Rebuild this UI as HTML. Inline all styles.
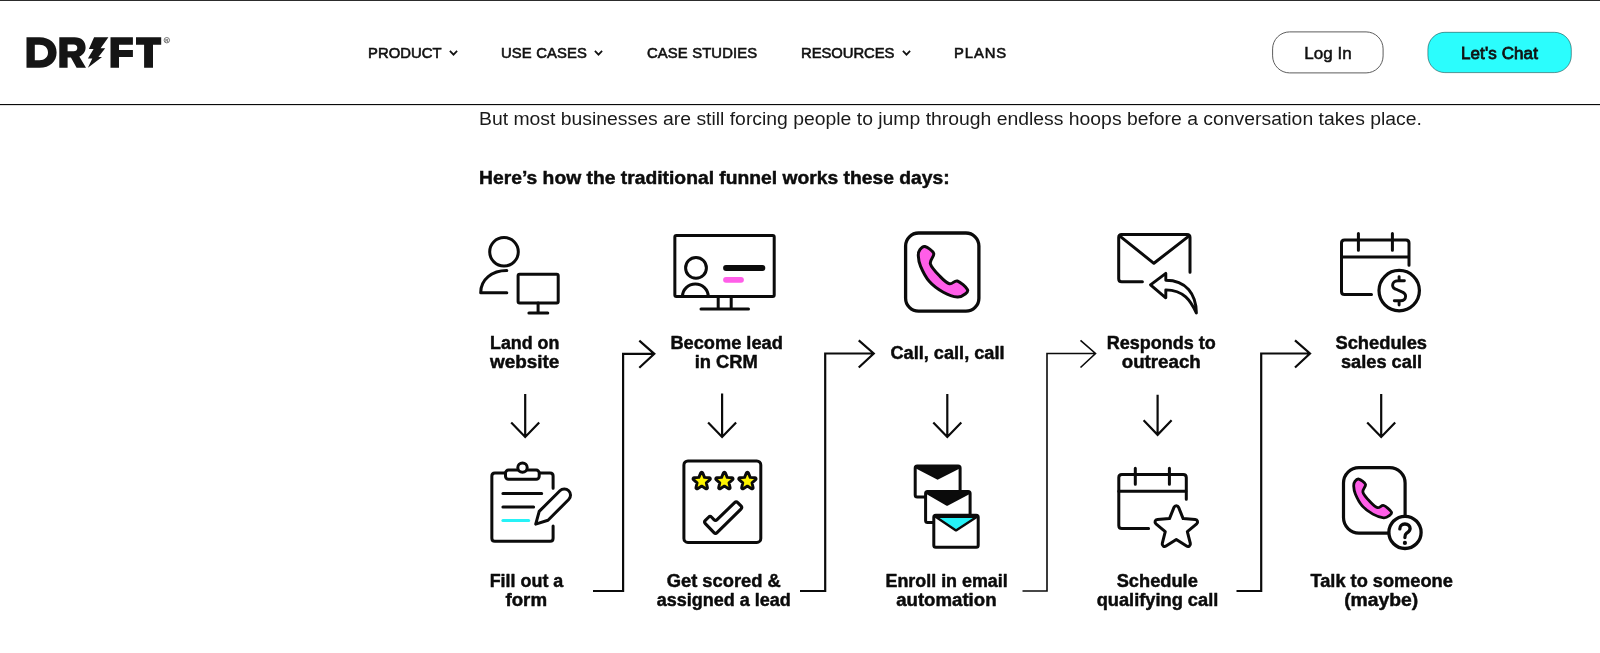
<!DOCTYPE html>
<html lang="en">
<head>
<meta charset="utf-8">
<title>Drift</title>
<style>
html,body{margin:0;padding:0;background:#fff;}
body{width:1600px;height:653px;overflow:hidden;position:relative;font-family:"Liberation Sans",sans-serif;color:#111;}
.topline{position:absolute;left:0;top:0;width:1600px;height:1px;background:#2c2c2c;border-bottom:1px solid #e9e9e9;}
.hdrline2{position:absolute;left:0;top:105px;width:1600px;height:1px;background:#dedede;}
header{position:absolute;left:0;top:1px;width:1600px;height:103px;background:#fff;border-bottom:1px solid #0a0a0a;box-sizing:content-box;}
.logo{position:absolute;left:26px;top:35px;will-change:transform;}
nav a{will-change:transform;position:absolute;top:43.7px;font-size:14.8px;line-height:16px;letter-spacing:0.1px;color:#111;text-decoration:none;white-space:nowrap;-webkit-text-stroke:0.6px #111;}
nav svg{position:absolute;top:49px;}
.btn{position:absolute;box-sizing:border-box;font-size:17px;text-align:center;color:#111;white-space:nowrap;-webkit-text-stroke:0.3px #111;will-change:transform;}
.btnshape{position:absolute;left:0;top:-1px;will-change:transform;}
.login{left:1272px;top:31.6px;-webkit-text-stroke:0.5px #111;width:112px;height:42px;line-height:42px;}
.chat{letter-spacing:0.1px;left:1427px;top:31.6px;width:145px;height:42px;line-height:42px;-webkit-text-stroke:0.8px #111;}
.p1{will-change:transform;position:absolute;left:479px;top:108px;font-size:18px;line-height:22px;transform:scaleX(1.0757);transform-origin:0 0;white-space:nowrap;color:#1a1a1a;}
.h1{will-change:transform;position:absolute;left:479px;top:167px;font-size:18px;line-height:22px;transform:scaleX(1.0712);transform-origin:0 0;font-weight:bold;white-space:nowrap;color:#0c0c0c;-webkit-text-stroke:0.45px #0c0c0c;}
#dg{position:absolute;left:0;top:0;filter:blur(0.35px);}
</style>
</head>
<body>
<div class="topline"></div>
<div class="hdrline2"></div>
<header>
<svg class="logo" width="150" height="34" viewBox="26 36 150 34" aria-label="Drift">
<g fill="#151515">
<path fill-rule="evenodd" d="M26.5,37.2 H39.5 C50,37.2 56.6,43.5 56.6,52.5 C56.6,61.5 50,67.8 39.5,67.8 H26.5 Z M34.8,44.8 V60.2 H39.5 C44.6,60.2 48,57.2 48,52.5 C48,47.8 44.6,44.8 39.5,44.8 Z"/>
<path fill-rule="evenodd" d="M59.3,37.2 H74.5 C81.5,37.2 85.6,41.2 85.6,47.3 C85.6,51.8 83.2,55 79.3,56.6 L86,67.8 H76.6 L70.9,57.6 H67.6 V67.8 H59.3 Z M67.6,44.6 V51.2 H73.6 C75.9,51.2 77.3,49.9 77.3,47.9 C77.3,45.9 75.9,44.6 73.6,44.6 Z"/>
<path d="M94.1,37.2 H108.4 L100.6,48.2 H105.2 L98.4,57 H102 L87.9,67.8 L92.3,58.6 H87.9 L93.6,48.9 H88.9 Z"/>
<path d="M110.5,37.2 H132.9 V44.8 H119 V50 H132.9 V56.9 H119 V67.8 H110.5 Z"/>
<path d="M136,37.2 H161.2 V44.8 H153 V67.8 H144.1 V44.8 H136 Z"/>
</g>
<circle cx="166.8" cy="40.2" r="2.7" fill="none" stroke="#555" stroke-width="0.8"/>
<text x="166.8" y="41.8" font-size="4.2" font-weight="bold" text-anchor="middle" fill="#555" font-family="Liberation Sans, sans-serif">R</text>
</svg>
<nav>
<a style="left:368px;letter-spacing:0.07px">PRODUCT</a>
<svg style="left:449.15px" width="9" height="7" viewBox="0 0 9 7"><path d="M0.9,0.8 L4.5,4.7 L8.1,0.8" fill="none" stroke="#111" stroke-width="1.7"/></svg>
<a style="left:501.3px;letter-spacing:0.15px">USE CASES</a>
<svg style="left:593.8px" width="9" height="7" viewBox="0 0 9 7"><path d="M0.9,0.8 L4.5,4.7 L8.1,0.8" fill="none" stroke="#111" stroke-width="1.7"/></svg>
<a style="left:646.8px;letter-spacing:0.15px">CASE STUDIES</a>
<a style="left:801.3px;letter-spacing:-0.04px">RESOURCES</a>
<svg style="left:901.9px" width="9" height="7" viewBox="0 0 9 7"><path d="M0.9,0.8 L4.5,4.7 L8.1,0.8" fill="none" stroke="#111" stroke-width="1.7"/></svg>
<a style="left:953.6px;letter-spacing:0.92px">PLANS</a>
</nav>
<svg class="btnshape" width="1600" height="104" viewBox="0 0 1600 104">
<rect x="1272.6" y="31.9" width="110.5" height="41" rx="17" fill="#fff" stroke="#4a4a4a" stroke-width="0.9"/>
<rect x="1427.9" y="32.3" width="143.4" height="40.3" rx="17" fill="#2bfdfd" stroke="rgba(0,40,40,0.55)" stroke-width="0.9"/>
</svg>
<div class="btn login">Log In</div>
<div class="btn chat">Let's Chat</div>
</header>
<div class="p1">But most businesses are still forcing people to jump through endless hoops before a conversation takes place.</div>
<div class="h1">Here’s how the traditional funnel works these days:</div>
<svg id="dg" width="1600" height="653" viewBox="0 0 1600 653" font-family="Liberation Sans, sans-serif">
<g fill="none" stroke="#0b0b0b" stroke-linecap="round" stroke-linejoin="round">
<g stroke-width="3">
<circle cx="504" cy="251.8" r="14.3"/>
<path d="M506.8,270.5 C492,270.5 480.7,279.5 480.7,292.7 H506.8"/>
<rect x="518.1" y="274.2" width="40.1" height="28.9" rx="1.5"/>
<path d="M538.1,303.1 V313 M528.9,313 H547.8"/>
</g>
<g stroke-width="3">
<rect x="674.85" y="235.6" width="99.35" height="60.8" rx="1.5"/>
<circle cx="696" cy="267.9" r="10.4"/>
<path d="M682.5,296.4 A12.85,12.4 0 0 1 708.2,296.4"/>
<path d="M718.2,297.4 V308.9 M731.2,297.4 V308.9 M701,308.9 H748.5"/>
<path d="M726,268 H762.4" stroke-width="5.8"/>
<path d="M726,279.8 H741" stroke-width="5.8" stroke="#ff5ee8"/>
</g>
<rect x="905.6" y="233" width="73.3" height="78.2" rx="13" stroke-width="3.3"/>
<path d="M924.9,246.5 C927.2,247.13 932.78,250.52 933.7,253.4 C934.62,256.28 929.35,259.97 930.4,263.8 C931.45,267.63 936.82,273.07 940,276.4 C943.18,279.73 946.6,283.03 949.5,283.8 C952.4,284.57 954.42,280.07 957.4,281 C960.38,281.93 966.12,287.23 967.4,289.4 C968.68,291.57 966.77,292.72 965.1,294 C963.43,295.28 961.03,297.38 957.4,297.1 C953.77,296.82 947.97,294.88 943.3,292.3 C938.63,289.72 933.18,285.92 929.4,281.6 C925.62,277.28 922.45,270.72 920.6,266.4 C918.75,262.08 918.42,258.5 918.3,255.7 C918.18,252.9 918.8,251.13 919.9,249.6 C921,248.07 922.6,245.87 924.9,246.5 Z" fill="#ff5ee8" stroke-width="3"/>
<g stroke-width="3">
<path d="M1190,272.3 V237.55 Q1190,234.55 1187,234.55 H1121.7 Q1118.7,234.55 1118.7,237.55 V278.7 Q1118.7,281.7 1121.7,281.7 H1142.4"/>
<path d="M1119.9,236.1 L1153.9,263.3 L1188.8,236.1"/>
<path d="M1150.5,284.8 L1165.8,273.3 V280.2 C1186,280.2 1196.2,294 1196.4,313.1 C1190.5,300.5 1184,290.3 1165.8,289.9 V297.8 Z" fill="#fff" stroke-width="2.9"/>
</g>
<g stroke-width="3">
<path d="M1409,265.2 V243.1 Q1409,240.1 1406,240.1 H1344.5 Q1341.5,240.1 1341.5,243.1 V291.4 Q1341.5,294.4 1344.5,294.4 H1371.5"/>
<path d="M1341.5,256.9 H1408.5 M1358.4,233.6 V250.2 M1392.4,233.6 V250.2"/>
<circle cx="1399.2" cy="290.6" r="20.2" fill="#fff" stroke-width="3.2"/>
<path d="M1404.4,280.7 H1397.8 C1394.6,280.7 1392.6,282.7 1392.6,285.2 C1392.6,287.6 1394.2,288.9 1397.2,289.7 L1401.4,291.6 C1404.2,292.6 1405.6,294 1405.6,296.3 C1405.6,299 1403.6,300.8 1400.6,300.8 H1394.3 M1399.1,276.6 V280.7 M1399.1,300.8 V305" stroke-width="2.9"/>
</g>
<g stroke-width="3">
<path d="M505.5,473 H494.85 Q491.85,473 491.85,476 V538.2 Q491.85,541.2 494.85,541.2 H550.1 Q553.1,541.2 553.1,538.2 V526 M553.1,488.2 V476 Q553.1,473 550.1,473 H539.2"/>
<rect x="505.5" y="470.1" width="33.7" height="9.2" rx="3" fill="#fff"/>
<circle cx="522.5" cy="467.6" r="4.7" fill="#fff"/>
<path d="M502.9,493.4 H541.7 M502.9,507 H533.6"/>
<path d="M502.9,520.5 H528.7" stroke="#26f2f7"/>
<path d="M535.7,524.1 L539.2,511.4 L559.9,490.7 A6.2,6.2 0 0 1 568.7,499.5 L548,520.2 Z" fill="#fff"/>
</g>
<g stroke-width="3">
<rect x="683.9" y="460.9" width="76.9" height="81.5" rx="4"/>
<path d="M700.73,472.88 A1.05,1.05 0 0 1 702.67,472.88 L704.52,477.42 L709.4,477.77 A1.05,1.05 0 0 1 710.01,479.62 L706.27,482.78 L707.43,487.54 A1.05,1.05 0 0 1 705.86,488.68 L701.7,486.1 L697.54,488.68 A1.05,1.05 0 0 1 695.97,487.54 L697.13,482.78 L693.39,479.62 A1.05,1.05 0 0 1 694,477.77 L698.88,477.42 Z" fill="#fff500" stroke-width="2.9"/>
<path d="M723.43,472.88 A1.05,1.05 0 0 1 725.37,472.88 L727.22,477.42 L732.1,477.77 A1.05,1.05 0 0 1 732.71,479.62 L728.97,482.78 L730.13,487.54 A1.05,1.05 0 0 1 728.56,488.68 L724.4,486.1 L720.24,488.68 A1.05,1.05 0 0 1 718.67,487.54 L719.83,482.78 L716.09,479.62 A1.05,1.05 0 0 1 716.7,477.77 L721.58,477.42 Z" fill="#fff500" stroke-width="2.9"/>
<path d="M746.43,472.88 A1.05,1.05 0 0 1 748.37,472.88 L750.22,477.42 L755.1,477.77 A1.05,1.05 0 0 1 755.71,479.62 L751.97,482.78 L753.13,487.54 A1.05,1.05 0 0 1 751.56,488.68 L747.4,486.1 L743.24,488.68 A1.05,1.05 0 0 1 741.67,487.54 L742.83,482.78 L739.09,479.62 A1.05,1.05 0 0 1 739.7,477.77 L744.58,477.42 Z" fill="#fff500" stroke-width="2.9"/>
<path d="M705.32,523.59 Q703.8,522 705.36,520.44 L708.54,517.26 Q710.1,515.7 711.66,517.26 L713.94,519.54 Q715.5,521.1 717.08,519.57 L734.62,502.63 Q736.2,501.1 737.74,502.67 L740.96,505.93 Q742.5,507.5 740.94,509.05 L717.06,532.65 Q715.5,534.2 713.98,532.61 Z" stroke-width="3.1"/>
</g>
<g stroke-width="3">
<rect x="915.2" y="466" width="44.9" height="31.1" rx="2" fill="#fff"/>
<path d="M916.4,467.5 L937.6,478.7 L959.3,467.5 Z" fill="#0b0b0b" stroke-width="2"/>
<rect x="925.6" y="491.5" width="44.5" height="30.9" rx="2" fill="#fff"/>
<path d="M926.4,493 L947.1,504.8 L969.3,493 Z" fill="#0b0b0b" stroke-width="2"/>
<rect x="933.8" y="515.2" width="44.4" height="32" rx="2" fill="#fff"/>
<path d="M935.6,516.7 L956,530.4 L977,516.7 Z" fill="#26f2f7" stroke-width="2.4"/>
</g>
<g stroke-width="3">
<path d="M1186.3,499.3 V477.5 Q1186.2,474.5 1183.2,474.5 H1121.8 Q1118.8,474.5 1118.8,477.5 V525.5 Q1118.8,528.5 1121.8,528.5 H1148.6"/>
<path d="M1118.8,491.3 H1185.8 M1135.3,468.2 V484.3 M1169.4,468.2 V484.3"/>
<path d="M1173.98,507.33 A2.5,2.5 0 0 1 1178.62,507.33 L1183.12,518.62 L1195.24,519.4 A2.5,2.5 0 0 1 1196.68,523.82 L1187.33,531.58 L1190.33,543.36 A2.5,2.5 0 0 1 1186.57,546.09 L1176.3,539.6 L1166.03,546.09 A2.5,2.5 0 0 1 1162.27,543.36 L1165.27,531.58 L1155.92,523.82 A2.5,2.5 0 0 1 1157.36,519.4 L1169.48,518.62 Z" fill="#fff"/>
</g>
<rect x="1343.5" y="467.6" width="61.6" height="65.5" rx="15.5" stroke-width="3.2"/>
<path d="M1358.76,479.05 C1360.52,479.54 1364.79,482.13 1365.5,484.34 C1366.2,486.54 1362.16,489.37 1362.97,492.3 C1363.77,495.24 1367.88,499.4 1370.32,501.95 C1372.76,504.51 1375.38,507.03 1377.6,507.62 C1379.82,508.21 1381.37,504.76 1383.65,505.48 C1385.94,506.19 1390.33,510.25 1391.31,511.91 C1392.29,513.57 1390.83,514.45 1389.55,515.43 C1388.27,516.42 1386.43,518.03 1383.65,517.81 C1380.87,517.59 1376.42,516.11 1372.85,514.13 C1369.28,512.15 1365.1,509.24 1362.2,505.94 C1359.3,502.63 1356.88,497.6 1355.46,494.29 C1354.04,490.99 1353.79,488.24 1353.7,486.1 C1353.61,483.95 1354.08,482.6 1354.93,481.42 C1355.77,480.25 1356.99,478.56 1358.76,479.05 Z" fill="#ff5ee8" stroke-width="2.8"/>
<circle cx="1405" cy="532.4" r="16.1" fill="#fff" stroke-width="3.3"/>
<path d="M1399.8,528.9 C1399.8,526 1401.8,524 1404.9,524 C1408,524 1410.1,525.9 1410.1,528.6 C1410.1,531.4 1408,532.3 1406.4,533.4 C1405.2,534.2 1404.9,535.2 1404.9,537.6" stroke-width="3.3"/>
<circle cx="1404.9" cy="542.9" r="2.1" fill="#0b0b0b" stroke="none"/>
<g stroke-width="2.2" stroke-linecap="butt" stroke-linejoin="miter">
<path d="M525.2,394 V436.5 M511.2,422.4 L525.2,437 L539.2,422.4"/>
<path d="M722.1,393.5 V436.5 M708.1,422.4 L722.1,437 L736.1,422.4"/>
<path d="M947.3,394 V436.5 M933.3,422.4 L947.3,437 L961.3,422.4"/>
<path d="M1157.6,394.7 V434.3 M1143.6,420.2 L1157.6,434.8 L1171.6,420.2"/>
<path d="M1381.2,394 V436.5 M1367.2,422.4 L1381.2,437 L1395.2,422.4"/>
</g>
<path d="M593,591 H623.1 V353.8 H653.8 M639.3,340.6 L654.3,353.8 L639.3,367.8" stroke-width="2.2" stroke-linecap="butt" stroke-linejoin="miter"/>
<path d="M800,591 H825.2 V353.5 H873.25 M858.75,340.3 L873.75,353.5 L858.75,367.5" stroke-width="2.2" stroke-linecap="butt" stroke-linejoin="miter"/>
<path d="M1022.5,591 H1047 V353.5 H1095 M1080.5,340.3 L1095.5,353.5 L1080.5,367.5" stroke-width="1.6" stroke-linecap="butt" stroke-linejoin="miter"/>
<path d="M1236.5,591 H1261.2 V353.5 H1309.5 M1295,340.3 L1310,353.5 L1295,367.5" stroke-width="2.2" stroke-linecap="butt" stroke-linejoin="miter"/>
</g>
<g font-size="17.5" font-weight="bold" fill="#0b0b0b" stroke="#0b0b0b" stroke-width="0.45" stroke-linejoin="round">
<text x="490" y="348.5" textLength="69.4" lengthAdjust="spacingAndGlyphs">Land on</text>
<text x="490" y="368" textLength="69.4" lengthAdjust="spacingAndGlyphs">website</text>
<text x="670.45" y="348.5" textLength="112.35" lengthAdjust="spacingAndGlyphs">Become lead</text>
<text x="694.7" y="368" textLength="63.1" lengthAdjust="spacingAndGlyphs">in CRM</text>
<text x="890.45" y="358.5" textLength="114.1" lengthAdjust="spacingAndGlyphs">Call, call, call</text>
<text x="1106.7" y="348.5" textLength="109.1" lengthAdjust="spacingAndGlyphs">Responds to</text>
<text x="1121.7" y="368" textLength="79.1" lengthAdjust="spacingAndGlyphs">outreach</text>
<text x="1335.45" y="348.5" textLength="91.6" lengthAdjust="spacingAndGlyphs">Schedules</text>
<text x="1340.95" y="368" textLength="81.1" lengthAdjust="spacingAndGlyphs">sales call</text>
<text x="489.7" y="586.5" textLength="73.6" lengthAdjust="spacingAndGlyphs">Fill out a</text>
<text x="505.45" y="606" textLength="41.6" lengthAdjust="spacingAndGlyphs">form</text>
<text x="666.7" y="586.5" textLength="114.1" lengthAdjust="spacingAndGlyphs">Get scored &amp;</text>
<text x="656.7" y="606" textLength="134.1" lengthAdjust="spacingAndGlyphs">assigned a lead</text>
<text x="885.45" y="586.5" textLength="122.35" lengthAdjust="spacingAndGlyphs">Enroll in email</text>
<text x="896.2" y="606" textLength="100.35" lengthAdjust="spacingAndGlyphs">automation</text>
<text x="1116.7" y="586.5" textLength="81.1" lengthAdjust="spacingAndGlyphs">Schedule</text>
<text x="1096.7" y="606" textLength="121.6" lengthAdjust="spacingAndGlyphs">qualifying call</text>
<text x="1310.45" y="586.5" textLength="142.35" lengthAdjust="spacingAndGlyphs">Talk to someone</text>
<text x="1344.2" y="606" textLength="74.1" lengthAdjust="spacingAndGlyphs">(maybe)</text>
</g>
</svg>
</body>
</html>
